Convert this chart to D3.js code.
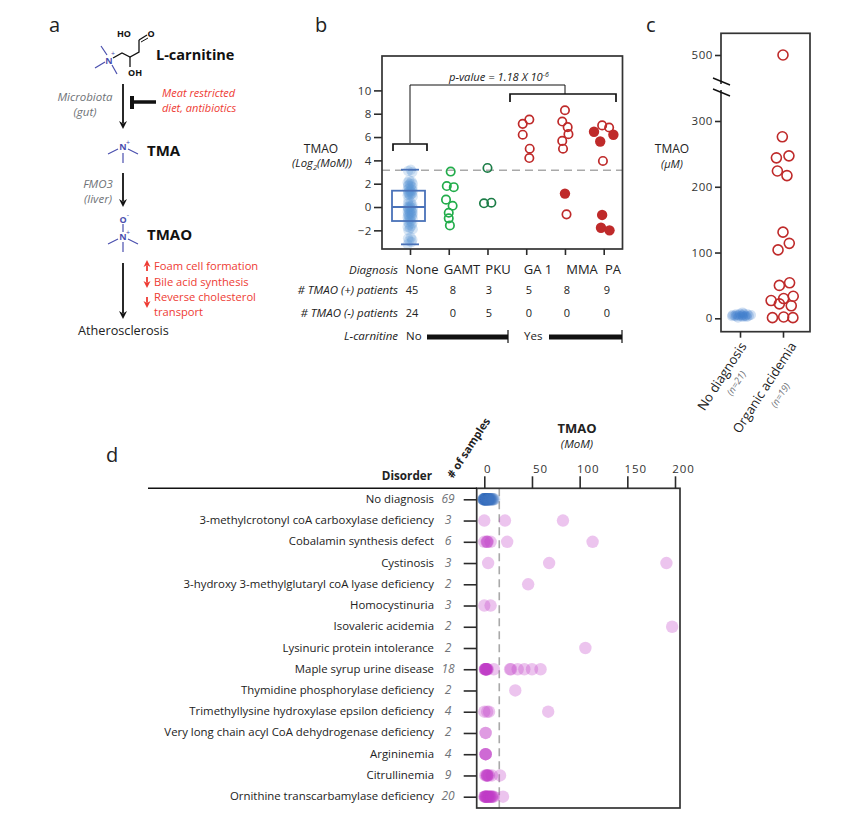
<!DOCTYPE html>
<html>

<head>
    <meta charset="utf-8" />
    <title>TMAO</title>
    <script type="text/javascript" src="https://cdn.jsdelivr.net/npm/d3@7"></script>
    <style>
        body { margin: 0; background: #fff; }
        text { font-family: "Open Sans", sans-serif; fill: #222; }
        .axis path { display: none; }
    </style>
</head>

<body>
    <script type="text/javascript">
        // panel b
        const diagnoses = ["None", "GAMT", "PKU", "GA 1", "MMA", "PA"];
        const yTicksB = [-2, 0, 2, 4, 6, 8, 10];
        const positives = [45, 8, 3, 5, 8, 9];
        const negatives = [24, 0, 5, 0, 0, 0];
        const noneValues = [3.2, 3.1, 3.0, 2.3, 2.2, 2.1, 2.0, 2.0, 1.9, 1.8, 1.8, 1.7, 1.6, 1.5, 1.5, 1.4, 1.4, 1.3,
            1.3, 1.2, 1.2, 1.1, 1.1, 1.0, 1.0, 0.9, 0.6, 0.4, 0.3, 0.2, 0.1, 0.1, 0.0, 0.0, -0.1, -0.1, -0.2,
            -0.2, -0.3, -0.3, -0.4, -0.4, -0.5, -0.5, -0.6, -0.6, -0.7, -0.7, -0.8, -0.8, -0.9, -1.0, -1.0, -1.1, -1.2,
            -1.3, -1.4, -1.5, -1.6, -1.7, -1.8, -1.9, -2.0, -2.6, -2.7, -2.8, -2.9, -3.0, -3.2];
        const noneJitter = [0.02, -0.05, 0.06, -0.02, 0.04, -0.06, 0.0, 0.07, -0.04];
        const noneBox = { q1: -1.2, median: 0, q3: 1.4, low: -3.2, high: 3.2 };
        const cutoff = 3.15;
        const gamtValues = [3.04, 1.8, 1.7, 0.63, 0.11, -0.49, -0.97, -1.58];
        const gamtJitter = [0.05, -0.05, 0.13, -0.07, 0.1, 0, 0, 0.03];
        const pkuValues = [3.35, 0.32, 0.37];
        const pkuJitter = [0, -0.09, 0.1];
        const ga1Values = [7.5, 7.13, 6.2, 5, 4.2];
        const ga1Jitter = [0.08, -0.09, -0.09, 0.09, 0.08];
        const mmaOpen = [8.3, 7.33, 6.85, 6.25, 5.67, 5.0, -0.63];
        const mmaOpenJitter = [0, -0.07, 0.07, 0.09, -0.07, -0.05, 0.04];
        const mmaFilled = [1.15];
        const mmaFilledJitter = [0];
        const paOpen = [7.0, 6.82, 3.95];
        const paOpenJitter = [-0.04, 0.14, -0.02];
        const paFilled = [6.45, 6.2, 5.62, -0.68, -1.78, -2];
        const paFilledJitter = [-0.25, 0.25, -0.09, -0.04, -0.07, 0.15];

        // panel c
        const groupsC = ["No diagnosis", "Organic acidemia"];
        const yTicksC = [0, 100, 200, 300, 500];
        const organicValues = [500, 276, 244, 247, 224, 217, 131, 114, 104, 54, 50, 33.5, 30, 27, 22, 19, 1, 2, 1];
        const organicOffsets = [0, -2, -20, 18, -17, 12, 0, 19, -15, 20, -11, 31, 2, -36, -11, 25, -32, 2, 30];
        const noDiagValues = [1, 2, 2, 3, 3, 3, 3, 4, 4, 4, 4, 4, 5, 5, 5, 5, 6, 6, 7, 7, 9];
        const noDiagOffsets = [-6, 4, 12, -18, -10, 0, 8, 16, -13, -4, 4, 10, 20, -17, -7, 2, 13, -10, 6, -2, 3];

        // panel d
        const disorders = ["No diagnosis", "3-methylcrotonyl coA carboxylase deficiency", "Cobalamin synthesis defect",
            "Cystinosis", "3-hydroxy 3-methylglutaryl coA lyase deficiency", "Homocystinuria", "Isovaleric acidemia",
            "Lysinuric protein intolerance", "Maple syrup urine disease", "Thymidine phosphorylase deficiency",
            "Trimethyllysine hydroxylase epsilon deficiency", "Very long chain acyl CoA dehydrogenase deficiency",
            "Argininemia", "Citrullinemia", "Ornithine transcarbamylase deficiency"];
        const sampleCounts = [69, 3, 6, 3, 2, 3, 2, 2, 18, 2, 4, 2, 4, 9, 20];
        const xTicksD = [0, 50, 100, 150, 200];
        const dashD = 15.7;
        const noDiagnosisMoM = [-1, -1, -1, -0.5, -0.5, -0.5, -0.5, 0, 0, 0, 0, 0, 0, 0.5, 0.5, 0.5, 0.5, 1, 1, 1, 1, 1, 1.5, 1.5, 1.5,
            1.5, 2, 2, 2, 2, 2, 2.5, 2.5, 2.5, 3, 3, 3, 3, 3.5, 3.5, 3.5, 4, 4, 4, 4, 4.5, 4.5, 4.5, 5, 5, 5, 5.5, 5.5, 6, 6, 6,
            6.5, 6.5, 7, 7, 7.5, 8, 8, 8.5, 9, 9, 9.5, 10, 10.5];
        const mccMoM = [0, 21.7, 82.5];
        const cobalaminMoM = [0, 2.5, 3, 3.5, 6.6, 24, 113.6];
        const cystinosisMoM = [4, 68, 191];
        const hmgMoM = [46];
        const homocystinuriaMoM = [0, 6.6];
        const isovalericMoM = [197];
        const lysinuricMoM = [106];
        const msudMoM = [0.5, 1, 1, 1.5, 2, 2, 3, 3.5, 1.5, 2.5, 10, 27, 28, 35, 42, 50, 59, 2];
        const thymidineMoM = [32.5];
        const trimethylMoM = [0, 3, 5, 67];
        const vlcadMoM = [1.4, 1.4];
        const argininemiaMoM = [1.4, 1.4, 1.4, 1.4];
        const citrullinemiaMoM = [1, 2, 3, 3, 3, 4, 5, 8, 16.5];
        const otcMoM = [0, 0.5, 1, 1, 1.5, 2, 2, 3, 3, 4, 4, 5, 5.5, 6, 7, 7.5, 8, 9, 10, 19.6];
        const seriesD = [noDiagnosisMoM, mccMoM, cobalaminMoM, cystinosisMoM, hmgMoM, homocystinuriaMoM, isovalericMoM,
            lysinuricMoM, msudMoM, thymidineMoM, trimethylMoM, vlcadMoM, argininemiaMoM, citrullinemiaMoM, otcMoM];

        const red = "#bf2a2a", textRed = "#ee3b33", gray = "#6f7378", molecule = "#4a4fae", dark = "#2b2b2b";

        const svg = d3.select("body").append("svg")
            .attr("width", 861)
            .attr("height", 820);

        const label = (x, y, str, opts = {}) => svg.append("text")
            .attr("x", x)
            .attr("y", y)
            .attr("text-anchor", opts.anchor || "start")
            .attr("font-size", opts.size || 11)
            .attr("font-weight", opts.bold ? "bold" : null)
            .attr("font-style", opts.italic ? "italic" : null)
            .attr("transform", opts.rotate ? `rotate(${opts.rotate},${x},${y})` : null)
            .style("fill", opts.color || "#222")
            .text(str);

        const line = (x1, y1, x2, y2, color = dark, width = 1.5) => svg.append("line")
            .attr("x1", x1).attr("y1", y1).attr("x2", x2).attr("y2", y2)
            .attr("stroke", color).attr("stroke-width", width);

        const path = (pts, color = dark, width = 1.2) => svg.append("path")
            .attr("d", d3.line()(pts))
            .attr("fill", "none").attr("stroke", color).attr("stroke-width", width);

        const arrow = (x, y1, y2, color = "#111", width = 1.8, head = 4) => {
            const dir = y2 > y1 ? 1 : -1;
            line(x, y1, x, y2 - dir * head * 1.5, color, width);
            svg.append("path")
                .attr("d", `M${x - head},${y2 - dir * head * 2}L${x},${y2}L${x + head},${y2 - dir * head * 2}L${x},${y2 - dir * head * 1.4}Z`)
                .attr("fill", color);
        };

        const styleAxis = (g, size = 11.5) => {
            g.selectAll("line").attr("stroke", dark).attr("stroke-width", 1.6);
            g.selectAll("text")
                .attr("font-size", size)
                .style("font-family", '"Open Sans", sans-serif')
                .style("letter-spacing", "0.6px")
                .style("fill", "#333");
        };

        const frame = (x, y, w, h) => svg.append("rect")
            .attr("x", x).attr("y", y).attr("width", w).attr("height", h)
            .attr("fill", "none").attr("stroke", "#333").attr("stroke-width", 1.7);

        // panel letters
        label(49, 32, "a", { size: 20 });
        label(315, 32, "b", { size: 20 });
        label(646, 32, "c", { size: 20 });
        label(106, 462, "d", { size: 20 });

        // panel a
        const renderPathway = () => {
            path([[101, 46], [107, 55]], molecule);
            path([[95, 68], [105, 62]], molecule);
            path([[112, 65], [117, 74]], molecule);
            path([[113, 58], [122, 53], [130, 57], [139, 52], [139, 40]], "#111", 1.3);
            path([[139, 40], [147, 35]], "#111", 1.3);
            path([[141, 42], [148, 38]], "#111", 1);
            path([[130, 57], [130, 67]], "#111", 1.3);
            label(109, 64, "N", { size: 9, anchor: "middle", color: molecule, bold: true });
            label(113, 56, "+", { size: 7, anchor: "middle", color: molecule });
            label(124, 37, "HO", { size: 9, anchor: "middle", bold: true, color: "#111" });
            label(151, 37, "O", { size: 9, anchor: "middle", bold: true, color: "#111" });
            label(135, 76, "OH", { size: 9, anchor: "middle", bold: true, color: "#111" });
            label(156, 60, "L-carnitine", { size: 14.5, bold: true, color: "#111" });

            arrow(123, 84, 129);
            label(85, 101, "Microbiota", { anchor: "middle", italic: true, color: gray, size: 11.5 });
            label(85, 116, "(gut)", { anchor: "middle", italic: true, color: gray, size: 11.5 });
            line(132, 96, 132, 109, "#111", 4);
            line(132, 102, 156, 102, "#111", 3.5);
            label(162, 97, "Meat restricted", { italic: true, color: textRed, size: 11 });
            label(162, 112, "diet, antibiotics", { italic: true, color: textRed, size: 11 });

            label(123, 150, "N", { size: 9, anchor: "middle", color: molecule, bold: true });
            label(128, 145, "+", { size: 7, anchor: "middle", color: molecule });
            path([[108, 154], [118, 149]], molecule);
            path([[128, 149], [138, 154]], molecule);
            path([[123, 153], [123, 163]], molecule);
            label(147, 156, "TMA", { size: 15, bold: true, color: "#111" });

            arrow(123, 173, 207);
            label(98, 188, "FMO3", { anchor: "middle", italic: true, color: gray, size: 11.5 });
            label(98, 203, "(liver)", { anchor: "middle", italic: true, color: gray, size: 11.5 });

            label(123, 223, "O", { size: 9, anchor: "middle", color: molecule, bold: true });
            label(128, 217, "-", { size: 7, anchor: "middle", color: molecule });
            path([[123, 224], [123, 232]], molecule);
            label(123, 240, "N", { size: 9, anchor: "middle", color: molecule, bold: true });
            label(128, 235, "+", { size: 7, anchor: "middle", color: molecule });
            path([[108, 244], [118, 239]], molecule);
            path([[128, 239], [138, 244]], molecule);
            path([[123, 242], [123, 252]], molecule);
            label(147, 240, "TMAO", { size: 15, bold: true, color: "#111" });

            arrow(123, 263, 319);
            arrow(147, 271, 260, textRed, 1.8, 3.5);
            arrow(147, 277, 288, textRed, 1.8, 3.5);
            arrow(147, 297, 308, textRed, 1.8, 3.5);
            label(154, 270, "Foam cell formation", { color: textRed, size: 11.2 });
            label(154, 286, "Bile acid synthesis", { color: textRed, size: 11.2 });
            label(154, 301, "Reverse cholesterol", { color: textRed, size: 11.2 });
            label(154, 316, "transport", { color: textRed, size: 11.2 });
            label(78, 335, "Atherosclerosis", { size: 12.7 });
        };

        // panel b
        const renderScatter = () => {
            const x = d3.scalePoint().domain(diagnoses).range([410, 603.7]);
            const y = d3.scaleLinear().domain([-3.6, 12.95]).range([249, 56]);
            const step = x.step();

            const dots = (values, jitter, cat, fill, stroke, opacity = 1) => svg.append("g")
                .selectAll("circle")
                .data(values)
                .join("circle")
                .attr("cx", (d, i) => x(cat) + jitter[i % jitter.length] * step)
                .attr("cy", d => y(d))
                .attr("r", stroke === "none" ? 5.2 : 4.2)
                .attr("fill", fill)
                .attr("fill-opacity", opacity)
                .attr("stroke", stroke)
                .attr("stroke-width", 1.7);

            svg.append("line")
                .attr("x1", 382).attr("x2", 622)
                .attr("y1", y(cutoff)).attr("y2", y(cutoff))
                .attr("stroke", "#a9a9a9").attr("stroke-width", 1.6)
                .attr("stroke-dasharray", "8,5");

            dots(noneValues, noneJitter, "None", "#5a96d6", "none", 0.24);
            const boxColor = "#4a72b8";
            svg.append("rect")
                .attr("x", x("None") - 18).attr("width", 33)
                .attr("y", y(noneBox.q3)).attr("height", y(noneBox.q1) - y(noneBox.q3))
                .attr("fill", "none").attr("stroke", boxColor).attr("stroke-width", 1.8);
            line(x("None") - 18, y(noneBox.median), x("None") + 15, y(noneBox.median), boxColor, 1.8);
            line(x("None") - 9, y(noneBox.high), x("None") + 9, y(noneBox.high), boxColor, 1.8);
            line(x("None") - 9, y(noneBox.low), x("None") + 9, y(noneBox.low), boxColor, 1.8);

            dots(gamtValues, gamtJitter, "GAMT", "none", "#22ad4b");
            dots(pkuValues, pkuJitter, "PKU", "none", "#1c7d47");
            dots(ga1Values, ga1Jitter, "GA 1", "none", red);
            dots(mmaOpen, mmaOpenJitter, "MMA", "none", red);
            dots(mmaFilled, mmaFilledJitter, "MMA", red, "none");
            dots(paOpen, paOpenJitter, "PA", "none", red);
            dots(paFilled, paFilledJitter, "PA", red, "none");

            frame(382, 56, 240.5, 193);

            svg.append("g").attr("class", "axis")
                .attr("transform", "translate(382,0)")
                .call(d3.axisLeft(y).tickValues(yTicksB).tickSize(8).tickPadding(2))
                .call(styleAxis);
            svg.append("g").attr("class", "axis")
                .attr("transform", "translate(0,249)")
                .call(d3.axisBottom(x).tickSize(6).tickFormat(""))
                .call(styleAxis);

            // brackets
            path([[410, 143], [410, 85], [565, 85], [565, 94]], "#111", 1);
            path([[510, 102], [510, 94], [616, 94], [616, 102]], "#111", 1.7);
            path([[393, 151], [393, 144], [427, 144], [427, 151]], "#111", 1.7);

            const p = label(449, 81, "p-value = 1.18 X 10", { italic: true, size: 11.2 });
            p.append("tspan").attr("dy", -4).attr("font-size", 7).text("-6");

            label(321, 153, "TMAO", { anchor: "middle", size: 12 });
            const lg = label(322, 167, "(Log", { anchor: "middle", italic: true, size: 11.3 });
            lg.append("tspan").attr("dy", 3).attr("font-size", 7.5).text("2");
            lg.append("tspan").attr("dy", -3).text("(MoM))");

            // table under the plot
            const rowLabel = (yPos, str) => label(398, yPos, str, { anchor: "end", italic: true, size: 11.5 });
            rowLabel(274, "Diagnosis");
            rowLabel(294, "# TMAO (+) patients");
            rowLabel(317, "# TMAO (-) patients");
            rowLabel(340, "L-carnitine");

            const headerX = [422, 462, 498, 538, 582, 613];
            const countX = [412, 453, 489, 529, 567, 607];
            diagnoses.forEach((d, i) => {
                label(headerX[i], 274, d, { anchor: "middle", size: 13 });
                label(countX[i], 294, positives[i], { anchor: "middle", size: 11 });
                label(countX[i], 317, negatives[i], { anchor: "middle", size: 11 });
            });

            label(406, 340, "No", { size: 11.5 });
            line(427, 337, 508, 337, "#111", 5);
            line(508, 330, 508, 343, "#111", 1.2);
            label(524, 340, "Yes", { size: 11.5 });
            line(549, 337, 622, 337, "#111", 5);
            line(622, 330, 622, 343, "#111", 1.2);
        };

        // panel c
        const renderAcidemia = () => {
            const x = d3.scalePoint().domain(groupsC).range([740, 783]);
            const y = d3.scaleLinear().domain([0, 300, 500]).range([318.3, 121, 55]);
            const yBottom = 331.7, yTop = 33.3;

            svg.append("g").selectAll("circle")
                .data(noDiagValues)
                .join("circle")
                .attr("cx", (d, i) => x("No diagnosis") + 1 + noDiagOffsets[i] * 0.5)
                .attr("cy", d => y(d))
                .attr("r", 5)
                .attr("fill", "#3f7fcb")
                .attr("fill-opacity", 0.24);

            svg.append("g").selectAll("circle")
                .data(organicValues)
                .join("circle")
                .attr("cx", (d, i) => x("Organic acidemia") + organicOffsets[i] * 0.33)
                .attr("cy", d => y(d))
                .attr("r", 5)
                .attr("fill", "none")
                .attr("stroke", red)
                .attr("stroke-width", 1.6);

            frame(721, yTop, 89, yBottom - yTop);

            svg.append("g").attr("class", "axis")
                .attr("transform", "translate(721,0)")
                .call(d3.axisLeft(y).tickValues(yTicksC).tickSize(6).tickPadding(2))
                .call(styleAxis);
            svg.append("g").attr("class", "axis")
                .attr("transform", `translate(0,${yBottom})`)
                .call(d3.axisBottom(x).tickSize(6).tickFormat(""))
                .call(styleAxis);

            // axis break
            svg.append("rect").attr("x", 718).attr("y", 84).attr("width", 6).attr("height", 6).attr("fill", "#fff");
            line(713, 78, 730, 85, "#111", 1.4);
            line(713, 89, 730, 96, "#111", 1.4);

            label(672, 153, "TMAO", { anchor: "middle", size: 12 });
            label(672, 168, "(µM)", { anchor: "middle", italic: true, size: 11 });

            label(747, 346, "No diagnosis", { anchor: "end", rotate: -57, size: 13 });
            label(739, 385, "(n=21)", { anchor: "middle", rotate: -57, size: 9.5, italic: true, color: gray });
            label(797, 346, "Organic acidemia", { anchor: "end", rotate: -57, size: 13 });
            label(783, 397, "(n=19)", { anchor: "middle", rotate: -57, size: 9.5, italic: true, color: gray });
        };

        // panel d
        const renderDisorders = () => {
            const x = d3.scaleLinear().domain([0, 200]).range([484.3, 675]);
            const y = d3.scalePoint().domain(disorders).range([499.3, 796.7]);
            const top = 488.3, bottom = 808;

            line(x(dashD), top, x(dashD), bottom, "#a9a9a9", 1.6).attr("stroke-dasharray", "8,5");

            seriesD.forEach((values, i) => {
                const isBlue = i === 0;
                svg.append("g").selectAll("circle")
                    .data(values)
                    .join("circle")
                    .attr("cx", d => x(d))
                    .attr("cy", y(disorders[i]))
                    .attr("r", 6.2)
                    .attr("fill", isBlue ? "#3f74c0" : "#c03cc8")
                    .attr("fill-opacity", isBlue ? 0.13 : 0.3);
            });

            svg.append("rect")
                .attr("x", 476.7).attr("y", top).attr("width", 203.3).attr("height", bottom - top)
                .attr("fill", "none").attr("stroke", "#333").attr("stroke-width", 1.7);
            line(148, top, 477, top, "#111", 1.5);

            svg.append("g").attr("class", "axis")
                .attr("transform", `translate(0,${top})`)
                .call(d3.axisTop(x).tickValues(xTicksD).tickSize(12).tickPadding(3))
                .call(styleAxis)
                .selectAll("text")
                .attr("dx", d => d === 0 ? 3 : 8)
                .style("letter-spacing", "0.9px");

            svg.append("g").attr("class", "axis")
                .attr("transform", "translate(476.7,0)")
                .call(d3.axisLeft(y).tickSize(13).tickFormat(""))
                .call(styleAxis);

            disorders.forEach((d, i) => {
                label(434, y(d) + 3.5, d, { anchor: "end", size: 11.4 });
                label(448, y(d) + 3.5, sampleCounts[i], { anchor: "middle", italic: true, color: gray, size: 12 });
            });

            label(432, 480, "Disorder", { anchor: "end", bold: true, size: 11.7 });
            label(453, 479, "# of samples", { rotate: -57, bold: true, size: 11 });
            label(577, 433, "TMAO", { anchor: "middle", bold: true, size: 13 });
            label(577, 448, "(MoM)", { anchor: "middle", italic: true, size: 11.5 });
        };

        renderPathway();
        renderScatter();
        renderAcidemia();
        renderDisorders();
    </script>
</body>

</html>
